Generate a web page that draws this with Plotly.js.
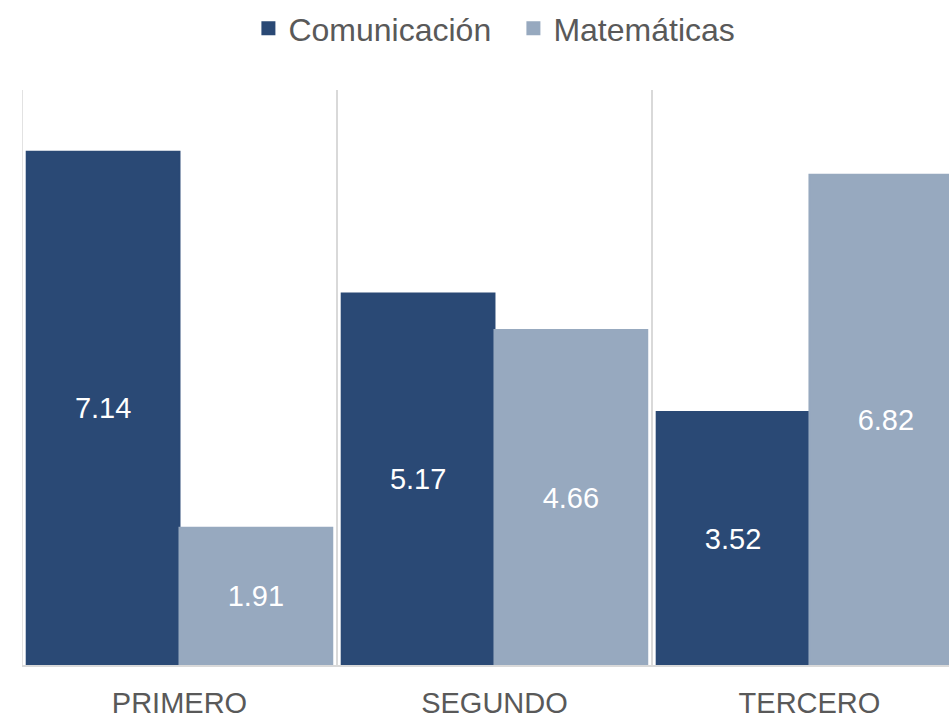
<!DOCTYPE html>
<html>
<head>
<meta charset="utf-8">
<script src="https://cdn.plot.ly/plotly-3.0.1.min.js"></script>
<style>html,body{margin:0;padding:0;background:#fff;}#chart{width:949px;height:714px;}</style>
</head>
<body>
<div id="chart"></div>
<script>
var categories = ["PRIMERO", "SEGUNDO", "TERCERO"];
var comunicacion = [7.14, 5.17, 3.52];
var matematicas = [1.91, 4.66, 6.82];
var seriesNames = ["Comunicación", "Matemáticas"];

var font = "Liberation Sans, Arial, sans-serif";
var data = [
  {type: "bar", name: seriesNames[0], x: categories, y: comunicacion,
   marker: {color: "#2a4975", line: {color: "#2a4975", width: 2}},
   text: comunicacion.map(function(v){return v.toFixed(2);}),
   textposition: "inside", insidetextanchor: "middle", constraintext: "none",
   textfont: {color: "#ffffff", size: 29, family: font}, hoverinfo: "skip"},
  {type: "bar", name: seriesNames[1], x: categories, y: matematicas,
   marker: {color: "#97a9bf", line: {color: "#97a9bf", width: 2}},
   text: matematicas.map(function(v){return v.toFixed(2);}),
   textposition: "inside", insidetextanchor: "middle", constraintext: "none",
   textfont: {color: "#ffffff", size: 29, family: font}, hoverinfo: "skip"}
];
var layout = {
  width: 949, height: 714,
  margin: {l: 22, r: 0, t: 90, b: 49},
  paper_bgcolor: "#ffffff", plot_bgcolor: "#ffffff",
  font: {family: font, color: "#595959"},
  barmode: "group", bargap: 0.03, bargroupgap: 0,
  showlegend: true,
  legend: {orientation: "h", xref: "container", yref: "container", x: 0.541, xanchor: "center",
           y: 0.96, yanchor: "middle", font: {size: 32, color: "#595959", family: font},
           itemwidth: 30, entrywidth: 220, entrywidthmode: "pixels", tracegroupgap: 0},
  xaxis: {type: "category", range: [-0.5, 2.443], tickson: "boundaries", ticks: "",
          showgrid: true, gridcolor: "#d9d9d9", gridwidth: 1.5,
          showline: true, linecolor: "#d9d9d9", linewidth: 1.5, ticklabelstandoff: 12,
          tickfont: {size: 29, color: "#595959", family: font}, fixedrange: true},
  yaxis: {range: [0, 8], showgrid: false, zeroline: false, showticklabels: false, ticks: "",
          fixedrange: true},
  shapes: [{type: "line", xref: "x", yref: "paper", x0: -0.5, x1: -0.5, y0: 0, y1: 1,
            line: {color: "#d9d9d9", width: 1.5}, layer: "below"}]
};
Plotly.newPlot("chart", data, layout, {staticPlot: true, displayModeBar: false});
</script>
</body>
</html>
